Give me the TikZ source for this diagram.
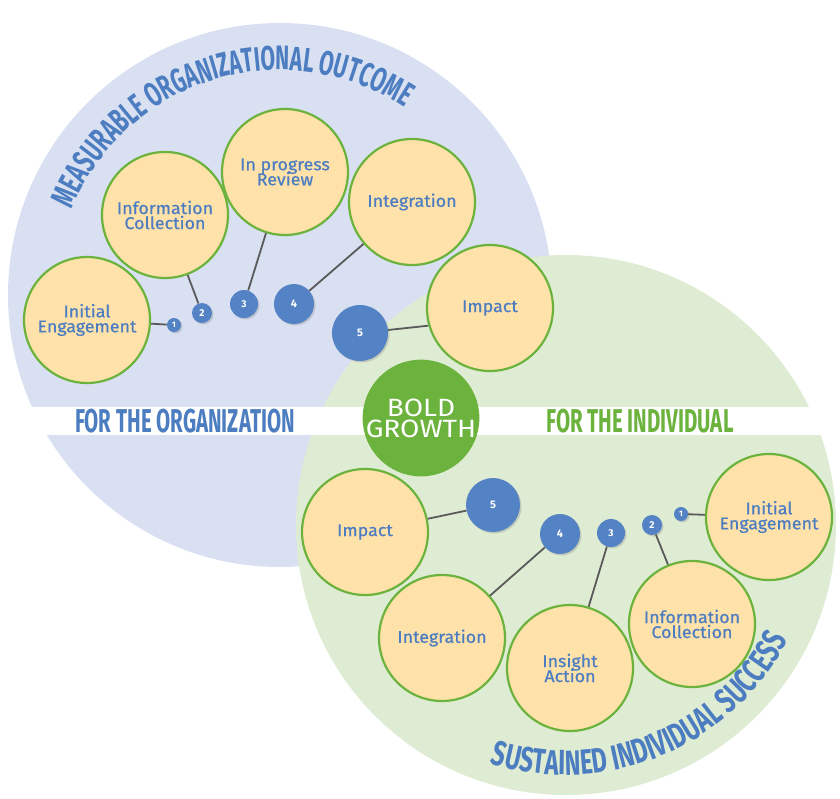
\documentclass[tikz,border=0pt]{standalone}
\usepackage{fontspec}
\setmainfont{Fira Sans}
\newfontfamily\condfont[FakeStretch=0.62]{Fira Sans}
\newfontfamily\arcwide[FakeStretch=0.68]{Fira Sans}
\newfontfamily\stagefont[FakeStretch=1.05, FakeBold=0.6]{Fira Sans}
\newfontfamily\widefont[FakeStretch=1.12]{Fira Sans}
\usepackage{xcolor}
\usetikzlibrary{positioning, decorations.text, shadows}
\definecolor{orgbg}{HTML}{D8E0F2}
\definecolor{indbg}{HTML}{DFECD4}
\definecolor{peach}{HTML}{FFE1AA}
\definecolor{leaf}{HTML}{6CB33E}
\definecolor{ink}{HTML}{4C7DC1}
\definecolor{bubble}{HTML}{5383C4}
\definecolor{wiregray}{HTML}{5A5A5A}
\newcommand\topfont{\condfont\bfseries\fontsize{34}{34}\selectfont}
\newcommand\botfont{\arcwide\bfseries\fontsize{35}{35}\selectfont}
\newcommand\tightlines{\lineskiplimit=-20pt\relax}
\tikzset{
  stage/.style={circle, draw=leaf, line width=2.2pt, fill=peach, minimum size=126pt,
                inner sep=0pt, align=center, text=ink,
                font=\stagefont\fontsize{17}{15}\selectfont\tightlines},
  num/.style={circle, fill=bubble, inner sep=0pt, text=white,
              drop shadow={shadow xshift=1.5pt, shadow yshift=-1.5pt, opacity=0.3}},
  wire/.style={draw=wiregray, line width=1.8pt},
  side/.style={font=\condfont\bfseries\fontsize{33}{33}\selectfont}
}

\begin{document}
\begin{tikzpicture}[x=1pt, y=-1pt]
  \useasboundingbox (0,0) rectangle (840,798);
  \fill[orgbg] (280,295) circle[radius=272pt];
  \fill[indbg] (566,525) circle[radius=270pt];
  \fill[white] (22,407) rectangle (826,435);
  \path[decorate, decoration={text along path, text align=center, text color=ink,
        text={|\topfont|MEASURABLE ORGANIZATIONAL OUTCOME}}]
    (280,295) ++(170:225pt) arc[start angle=170, end angle=44, radius=225pt];
  \path[decorate, decoration={text along path, text align=center, text color=ink,
        text={|\botfont|SUSTAINED INDIVIDUAL SUCCESS}}]
    (566,525) ++(235:250pt) arc[start angle=235, end angle=350, radius=250pt];
  \node[side, text=ink] (org) at (185,421) {FOR THE ORGANIZATION};
  \node[side, text=leaf] (ind) at (640,421) {FOR THE INDIVIDUAL};
  \node[circle, fill=leaf, minimum size=112pt, inner sep=0pt, align=center, text=white,
        font=\widefont\fontsize{25}{21}\selectfont\tightlines] (bold) at (421,418) {BOLD\\GROWTH};

  \node[stage] (oie) at (87,320) {Initial\\Engagement};
  \node[stage] (oic) at (165,215) {Information\\Collection};
  \node[stage] (orv) at (285,172) {In progress\\Review};
  \node[stage] (oin) at (412,202) {Integration};
  \node[stage] (oim) at (490,308) {Impact};
  \foreach \i/\x/\y/\d/\f in {1/174/325/14/8, 2/202/313/20/10, 3/244/304/28/10,
                              4/294/304/40/11, 5/360/333/56/11}
    \node[num, minimum size=\d pt, font=\bfseries\fontsize{\f}{\f}\selectfont] (a\i) at (\x,\y) {\i};
  \draw[wire] (oie) -- (a1);
  \draw[wire] (oic) -- (a2);
  \draw[wire] (orv) -- (a3);
  \draw[wire] (oin) -- (a4);
  \draw[wire] (a5) -- (oim.196);

  \node[stage] (iim) at (365,532) {Impact};
  \node[stage] (iin) at (442,638) {Integration};
  \node[stage] (iia) at (570,668) {Insight\\Action};
  \node[stage] (iic) at (692,624) {Information\\Collection};
  \node[stage] (iie) at (769,517) {Initial\\Engagement};
  \foreach \i/\x/\y/\d/\f in {1/681/514/14/8, 2/652/525/20/10, 3/611/533/28/10,
                              4/560/534/40/11, 5/493/505/54/11}
    \node[num, minimum size=\d pt, font=\bfseries\fontsize{\f}{\f}\selectfont] (b\i) at (\x,\y) {\i};
  \draw[wire] (iim) -- (b5);
  \draw[wire] (b4) -- (iin);
  \draw[wire] (b3) -- (iia);
  \draw[wire] (b2) -- (iic);
  \draw[wire] (b1) -- (iie);
\end{tikzpicture}
\end{document}
